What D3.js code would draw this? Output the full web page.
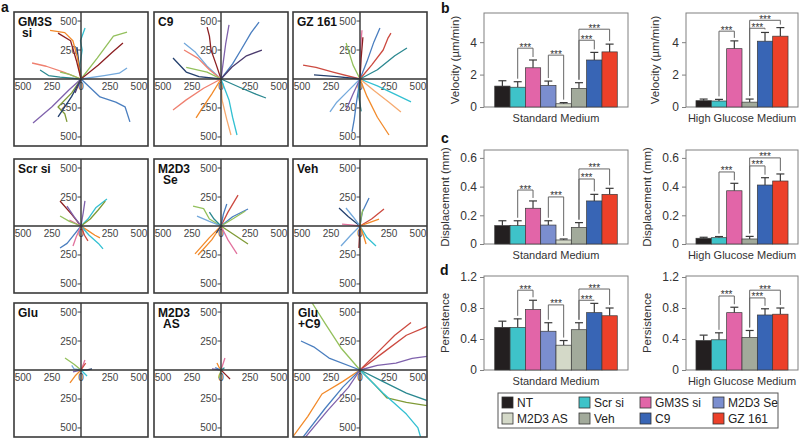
<!DOCTYPE html>
<html><head><meta charset="utf-8">
<script src="https://cdn.jsdelivr.net/npm/d3@7"></script>
<style>body{margin:0;background:#fff}</style>
</head><body><svg id="c" width="800" height="439"></svg>
<script>
// ================= DATA =================
const trackColors = {
  blue:"#4a7ebf", lblue:"#74a9dc", orange:"#f28a2a", lorange:"#f6aa70", green:"#93c05c",
  olive:"#7f9a36", red:"#cc4a40", dred:"#8c1f22", purple:"#7f62ac", dpurple:"#4b3b6e",
  teal:"#2b8890", cyan:"#33c0d2", navy:"#24406e", pink:"#e2739e", salmon:"#ef8070"
};
const panelLabels = [["GM3S","si"],["C9"],["GZ 161"],["Scr si"],["M2D3","Se"],["Veh"],["Glu"],["M2D3","AS"],["Glu","+C9"]];
const trajXTicks = [-500,-250,0,250,500];
const trajXTickLabels = ["500","250","0","250","500"];
const trajYTicks = [500,250,-250,-500];
const trajYTickLabels = ["500","250","250","500"];

const tracksGM3S = [
  ["cyan",[[0,0],[-10,120],[10,250],[-5,330],[35,440]]],
  ["navy",[[0,0],[-20,150],[-35,275]]],
  ["orange",[[0,0],[-30,180],[-70,330],[-140,400],[-267,420]]],
  ["dred",[[0,0],[-40,160],[-90,330],[-198,396]]],
  ["green",[[0,0],[140,180],[280,370],[397,405]]],
  ["dred",[[0,0],[150,120],[270,230],[362,310]]],
  ["lblue",[[0,0],[200,30],[330,50],[397,95]]],
  ["salmon",[[0,0],[-150,60],[-300,110],[-422,138]]],
  ["teal",[[0,0],[-181,17],[-280,30],[-353,78]]],
  ["green",[[0,0],[-100,40],[-180,60]]],
  ["blue",[[0,0],[164,-155],[300,-200],[380,-240],[422,-370]]],
  ["purple",[[0,0],[-100,-90],[-250,-240],[-414,-380]]],
  ["olive",[[0,0],[-80,-120],[-198,-241],[-140,-300],[-121,-370]]],
  ["navy",[[0,0],[-80,-150],[-198,-327]]],
  ["dpurple",[[0,0],[-52,-120]]]
];
const tracksC9 = [
  ["dred",[[0,0],[-40,120],[-86,250],[-100,370],[-120,448]]],
  ["purple",[[0,0],[20,150],[40,300],[69,466]]],
  ["blue",[[0,0],[100,130],[172,250],[260,400],[328,490]]],
  ["dpurple",[[0,0],[95,103],[220,200],[353,250]]],
  ["lblue",[[0,0],[-120,110],[-220,230],[-319,310]]],
  ["salmon",[[0,0],[-100,80],[-200,180],[-319,250]]],
  ["green",[[0,0],[-120,60],[-300,100]]],
  ["navy",[[0,0],[-190,20],[-300,60],[-414,181]]],
  ["salmon",[[0,0],[-150,-80],[-300,-180],[-414,-267]]],
  ["orange",[[0,0],[-80,-130],[-160,-250],[-215,-336]]],
  ["lorange",[[0,0],[9,-181],[50,-350],[86,-483]]],
  ["cyan",[[0,0],[69,-181],[100,-330],[138,-483]]],
  ["teal",[[0,0],[155,-69],[300,-130],[388,-164]]]
];
const tracksGZ161 = [
  ["green",[[0,0],[-60,120],[-120,310]]],
  ["red",[[0,0],[-233,60],[-380,100],[-491,120]]],
  ["navy",[[0,0],[-200,20],[-397,35]]],
  ["pink",[[0,0],[0,200],[17,420]]],
  ["dred",[[0,0],[10,180],[25,360]]],
  ["blue",[[0,0],[60,150],[120,320],[172,440]]],
  ["red",[[0,0],[100,120],[200,250],[240,350],[267,396]]],
  ["teal",[[0,0],[150,80],[300,200],[405,267]]],
  ["cyan",[[0,0],[150,-60],[300,-130],[440,-198]]],
  ["lorange",[[0,0],[120,-100],[250,-200],[353,-284]]],
  ["orange",[[0,0],[60,-150],[150,-330],[250,-483]]],
  ["lblue",[[0,0],[-100,-100],[-200,-200],[-259,-284]]],
  ["purple",[[0,0],[-60,-130],[-120,-267]]],
  ["blue",[[0,0],[-30,-200],[-50,-350],[-69,-457]]],
  ["teal",[[0,0],[-10,-150],[10,-280]]]
];
const tracksScr = [
  ["cyan",[[0,0],[60,60],[130,160],[224,233]]],
  ["olive",[[0,0],[80,60],[150,140],[210,215]]],
  ["dred",[[0,0],[-80,100],[-181,216]]],
  ["purple",[[0,0],[-60,80],[-121,172]]],
  ["purple",[[0,0],[20,120],[34,216]]],
  ["pink",[[0,0],[-100,50]]],
  ["green",[[0,0],[-100,40],[-181,86]]],
  ["blue",[[0,0],[-80,-100],[-120,-150],[-181,-190]]],
  ["pink",[[0,0],[-40,-90],[-69,-172]]],
  ["orange",[[0,0],[60,-40],[120,-80],[164,-103]]],
  ["cyan",[[0,0],[70,-80],[150,-150],[190,-198]]],
  ["red",[[0,0],[30,-80],[60,-129]]]
];
const tracksSe = [
  ["red",[[0,0],[60,120],[147,267]]],
  ["blue",[[0,0],[100,80],[233,147]]],
  ["green",[[0,0],[100,60],[210,130]]],
  ["blue",[[0,0],[20,100],[50,190]]],
  ["green",[[0,0],[-100,60],[-150,150],[-241,172]]],
  ["teal",[[0,0],[-60,60],[-100,120]]],
  ["lblue",[[0,0],[-100,40],[-207,86]]],
  ["orange",[[0,0],[-100,-100],[-224,-241]]],
  ["orange",[[0,0],[-80,-120],[-198,-250]]],
  ["pink",[[0,0],[60,-120],[138,-241]]],
  ["olive",[[0,0],[120,-80],[233,-155]]],
  ["navy",[[0,0],[-40,-60]]]
];
const tracksVeh = [
  ["blue",[[0,0],[20,120],[78,241]]],
  ["red",[[0,0],[100,60],[207,147]]],
  ["orange",[[0,0],[80,30],[164,60]]],
  ["navy",[[0,0],[-100,80],[-181,155]]],
  ["lblue",[[0,0],[-60,80],[-121,155]]],
  ["green",[[0,0],[10,80],[25,143]]],
  ["pink",[[0,0],[-80,10],[-155,17]]],
  ["lblue",[[0,0],[-80,-80],[-164,-172]]],
  ["dred",[[0,0],[-5,-100],[-9,-190]]],
  ["cyan",[[0,0],[60,-100],[138,-172]]],
  ["orange",[[0,0],[30,-80],[52,-155]]]
];
const tracksGlu = [
  ["green",[[0,0],[-60,50],[-138,103]]],
  ["orange",[[0,0],[-50,-50],[-95,-112]]],
  ["navy",[[0,0],[50,0],[95,9]]],
  ["cyan",[[0,0],[30,-30],[52,-52]]],
  ["purple",[[0,0],[-40,-10],[-69,-17]]],
  ["pink",[[0,0],[20,50],[34,86]]],
  ["lblue",[[0,0],[-60,10],[-80,40]]],
  ["red",[[0,0],[40,60]]]
];
const tracksAS = [
  ["pink",[[0,0],[20,60],[34,103]]],
  ["dred",[[0,0],[40,-40],[78,-78]]],
  ["purple",[[0,0],[-40,5],[-78,9]]],
  ["green",[[0,0],[-10,-40],[-20,-70]]],
  ["orange",[[0,0],[-20,30],[-35,60]]],
  ["blue",[[0,0],[-50,20]]],
  ["teal",[[0,0],[30,20]]]
];
const tracksGluC9 = [
  ["green",[[0,0],[-164,190],[-300,400],[-414,580]]],
  ["blue",[[0,0],[-267,103],[-400,200],[-509,250]]],
  ["red",[[0,0],[150,150],[300,300],[440,410]]],
  ["red",[[0,0],[200,150],[400,300],[590,380]]],
  ["purple",[[0,0],[150,40],[310,60],[450,100],[590,120]]],
  ["teal",[[0,0],[200,-100],[400,-200],[590,-267]]],
  ["olive",[[0,0],[120,-120],[233,-241],[400,-280],[590,-310]]],
  ["cyan",[[0,0],[200,-200],[400,-380],[500,-500],[526,-590]]],
  ["orange",[[0,0],[-150,-100],[-328,-207],[-450,-400],[-590,-590]]],
  ["blue",[[0,0],[-150,-150],[-300,-330],[-500,-590]]],
  ["purple",[[0,0],[-100,-150],[-280,-350],[-480,-590]]]
];
const allTracks = [tracksGM3S,tracksC9,tracksGZ161,tracksScr,tracksSe,tracksVeh,tracksGlu,tracksAS,tracksGluC9];

const categoriesStd = ["NT","Scr si","GM3S si","M2D3 Se","M2D3 AS","Veh","C9","GZ 161"];
const categoriesHG  = ["NT","Scr si","GM3S si","Veh","C9","GZ 161"];
const barColors = ["#231f20","#3ec3c9","#e265a8","#7b8ecf","#d4d9c8","#a2aa9b","#3865b5","#ec4029"];

const velocityStd    = [1.29,1.22,2.42,1.33,0.20,1.15,2.90,3.40];
const velocityStdErr = [0.33,0.34,0.48,0.27,0.07,0.35,0.47,0.48];
const velocityHG     = [0.39,0.37,3.60,0.30,4.06,4.37];
const velocityHGErr  = [0.10,0.10,0.48,0.19,0.54,0.53];
const displStd       = [0.128,0.128,0.249,0.132,0.028,0.116,0.300,0.346];
const displStdErr    = [0.034,0.034,0.051,0.030,0.007,0.033,0.046,0.042];
const displHG        = [0.040,0.044,0.371,0.035,0.411,0.439];
const displHGErr     = [0.007,0.008,0.052,0.018,0.051,0.049];
const persStd        = [0.55,0.55,0.78,0.50,0.32,0.52,0.74,0.70];
const persStdErr     = [0.08,0.11,0.12,0.11,0.06,0.09,0.12,0.10];
const persHG         = [0.38,0.39,0.74,0.42,0.71,0.72];
const persHGErr      = [0.07,0.09,0.07,0.09,0.08,0.08];

const velocityTicks = [0,2,4];
const displTicks = [0,0.2,0.4,0.6];
const persTicks = [0,0.4,0.8,1.2];

// significance brackets: [from index, to index, bracket height in data units]
const sigVelStd  = [[1,2,3.63],[3,4,3.2],[5,6,4.12],[5,7,4.8]];
const sigVelHG   = [[1,2,4.68],[3,4,4.86],[3,5,5.35]];
const sigDispStd = [[1,2,0.376],[3,4,0.328],[5,6,0.453],[5,7,0.523]];
const sigDispHG  = [[1,2,0.502],[3,4,0.544],[3,5,0.60]];
const sigPersStd = [[1,2,1.03],[3,4,0.84],[5,6,0.90],[5,7,1.045]];
const sigPersHG  = [[1,2,0.955],[3,4,0.93],[3,5,1.03]];

// ================= DRAW =================
const FONT = '"Liberation Sans", Arial, Helvetica, sans-serif';
const svg = d3.select("#c");
svg.append("rect").attr("width",800).attr("height",439).attr("fill","#fff");
const colorOf = {};
categoriesStd.forEach((c,i)=>colorOf[c]=barColors[i]);

function letter(t,x,y){
  svg.append("text").attr("x",x).attr("y",y).text(t).attr("font-family",FONT)
    .attr("font-weight","bold").attr("font-size",14).attr("fill","#111");
}
letter("a",1,12); letter("b",441,13); letter("c",441,143); letter("d",440,275);

// ----- panel a -----
const boxCols=[14,154,293], boxRows=[12,159,303], BOX=134;
const labelIndent=[[4,8],[4],[4],[4],[4,9],[4],[4],[4,9],[5,5]];
const line = d3.line();
allTracks.forEach((tracks,i)=>{
  const x0=boxCols[i%3], y0=boxRows[Math.floor(i/3)];
  const sx=d3.scaleLinear().domain([-578,578]).range([x0,x0+BOX]);
  const sy=d3.scaleLinear().domain([-578,578]).range([y0+BOX,y0]);
  const g=svg.append("g");
  const cid="clip"+i;
  g.append("clipPath").attr("id",cid).append("rect").attr("x",x0).attr("y",y0).attr("width",BOX).attr("height",BOX);
  trajYTicks.forEach((v,k)=>{
    g.append("text").attr("x",sx(0)-4).attr("y",sy(v)+3.5).attr("text-anchor","end")
      .attr("font-family",FONT).attr("font-size",10).attr("fill","#444").text(trajYTickLabels[k]);
    g.append("line").attr("x1",sx(0)-3.5).attr("x2",sx(0)).attr("y1",sy(v)).attr("y2",sy(v)).attr("stroke","#444").attr("stroke-width",1);
  });
  trajXTicks.forEach((v,k)=>{
    g.append("text").attr("x",sx(v)).attr("y",sy(0)+11).attr("text-anchor","middle")
      .attr("font-family",FONT).attr("font-size",10).attr("fill","#444").text(trajXTickLabels[k]);
  });
  const tg=g.append("g").attr("clip-path",`url(#${cid})`);
  tracks.forEach(([c,pts])=>{
    tg.append("path").attr("d",line.x(d=>sx(d[0])).y(d=>sy(d[1]))(pts))
      .attr("fill","none").attr("stroke",trackColors[c]).attr("stroke-width",1.3).attr("stroke-linejoin","round");
  });
  g.append("line").attr("x1",x0).attr("x2",x0+BOX).attr("y1",sy(0)).attr("y2",sy(0)).attr("stroke","#333").attr("stroke-width",1.4);
  g.append("line").attr("x1",sx(0)).attr("x2",sx(0)).attr("y1",y0).attr("y2",y0+BOX).attr("stroke","#333").attr("stroke-width",1.4);
  g.append("rect").attr("x",x0).attr("y",y0).attr("width",BOX).attr("height",BOX)
    .attr("fill","none").attr("stroke","#3a3a3a").attr("stroke-width",1.6);
  panelLabels[i].forEach((t,k)=>{
    g.append("text").attr("x",x0+labelIndent[i][k]).attr("y",y0+14+k*10.5).text(t)
      .attr("font-family",FONT).attr("font-weight","bold").attr("font-size",12).attr("fill","#111");
  });
});

// ----- bar charts -----
function drawBars(c){
  const g=svg.append("g");
  const x=d3.scaleBand().domain(c.cats).range([c.x0,c.x1]).paddingInner(0).paddingOuter(c.pad);
  const y=d3.scaleLinear().domain([0,c.max]).range([c.base,c.top]);
  const bw=x.bandwidth();
  g.append("rect").attr("x",c.x0).attr("y",c.top).attr("width",c.x1-c.x0).attr("height",c.base-c.top)
    .attr("fill","none").attr("stroke","#808080").attr("stroke-width",1);
  const ax=g.append("g").attr("transform",`translate(${c.x0},0)`)
    .call(d3.axisLeft(y).tickValues(c.ticks).tickFormat(c.fmt).tickSize(4).tickPadding(3));
  ax.attr("font-family",FONT).attr("font-size",12);
  ax.select(".domain").remove();
  ax.selectAll("line").attr("stroke","#808080");
  ax.selectAll("text").attr("fill","#333");
  c.vals.forEach((v,i)=>{
    const cx=x(c.cats[i])+bw/2, yt=y(v+c.errs[i]);
    g.append("line").attr("x1",cx).attr("x2",cx).attr("y1",y(v)).attr("y2",yt).attr("stroke","#3a3a3a").attr("stroke-width",1.2);
    g.append("line").attr("x1",cx-4).attr("x2",cx+4).attr("y1",yt).attr("y2",yt).attr("stroke","#3a3a3a").attr("stroke-width",1.2);
  });
  g.selectAll("rect.bar").data(c.vals).join("rect").attr("class","bar")
    .attr("x",(d,i)=>x(c.cats[i])).attr("y",d=>y(d)).attr("width",bw).attr("height",d=>c.base-y(d))
    .attr("fill",(d,i)=>colorOf[c.cats[i]]).attr("stroke","#3a3a3a").attr("stroke-width",0.7);
  c.sig.forEach(([a,b,h])=>{
    const xa=x(c.cats[a])+bw/2, xb=x(c.cats[b])+bw/2, yt=y(h);
    const ya=y(c.vals[a]+c.errs[a])-3, yb=y(c.vals[b]+c.errs[b])-3;
    g.append("path").attr("d",`M${xa},${ya}V${yt}H${xb}V${yb}`).attr("fill","none").attr("stroke","#666").attr("stroke-width",1);
    g.append("text").attr("x",(xa+xb)/2).attr("y",yt+2.5).attr("text-anchor","middle")
      .attr("font-family",FONT).attr("font-size",10).attr("fill","#333").text("***");
  });
  g.append("text").attr("transform",`translate(${c.titleX},${(c.top+c.base)/2}) rotate(-90)`)
    .attr("text-anchor","middle").attr("font-family",FONT).attr("font-size",11.5).attr("fill","#333").text(c.title);
  g.append("text").attr("x",(c.x0+c.x1)/2).attr("y",c.base+15).attr("text-anchor","middle")
    .attr("font-family",FONT).attr("font-size",11).attr("fill","#333").text(c.xlabel);
}
const std={cats:categoriesStd,x0:484,x1:628,pad:0.7,xlabel:"Standard Medium"};
const hg={cats:categoriesHG,x0:686,x1:798,pad:0.65,xlabel:"High Glucose Medium"};
const fmtV=d3.format("d"), fmt1=d=>d===0?"0":d3.format(".1f")(d);
const velRow={top:13,base:107,max:5.8,ticks:velocityTicks,fmt:fmtV,title:"Velocity (µm/min)"};
const dispRow={top:150,base:244,max:0.655,ticks:displTicks,fmt:fmt1,title:"Displacement (mm)"};
const persRow={top:276,base:370,max:1.213,ticks:persTicks,fmt:fmt1,title:"Persistence"};
drawBars({...std,...velRow,vals:velocityStd,errs:velocityStdErr,sig:sigVelStd,titleX:459});
drawBars({...hg,...velRow,vals:velocityHG,errs:velocityHGErr,sig:sigVelHG,titleX:659});
drawBars({...std,...dispRow,vals:displStd,errs:displStdErr,sig:sigDispStd,titleX:449});
drawBars({...hg,...dispRow,vals:displHG,errs:displHGErr,sig:sigDispHG,titleX:651});
drawBars({...std,...persRow,vals:persStd,errs:persStdErr,sig:sigPersStd,titleX:449});
drawBars({...hg,...persRow,vals:persHG,errs:persHGErr,sig:sigPersHG,titleX:651});

// ----- legend -----
const lg=svg.append("g");
lg.append("rect").attr("x",498).attr("y",393).attr("width",280).attr("height",35)
  .attr("fill","#fff").attr("stroke","#555").attr("stroke-width",1);
const legCols=[502,579,640,713];
categoriesStd.forEach((c,i)=>{
  const col=i%4,row=Math.floor(i/4);
  const lx=legCols[col], ly=397+row*16;
  lg.append("rect").attr("x",lx).attr("y",ly).attr("width",11).attr("height",11)
    .attr("fill",barColors[i]).attr("stroke","#333").attr("stroke-width",0.8);
  lg.append("text").attr("x",lx+15).attr("y",ly+10).attr("font-family",FONT).attr("font-size",12)
    .attr("fill","#222").text(c);
});
</script></body></html>
